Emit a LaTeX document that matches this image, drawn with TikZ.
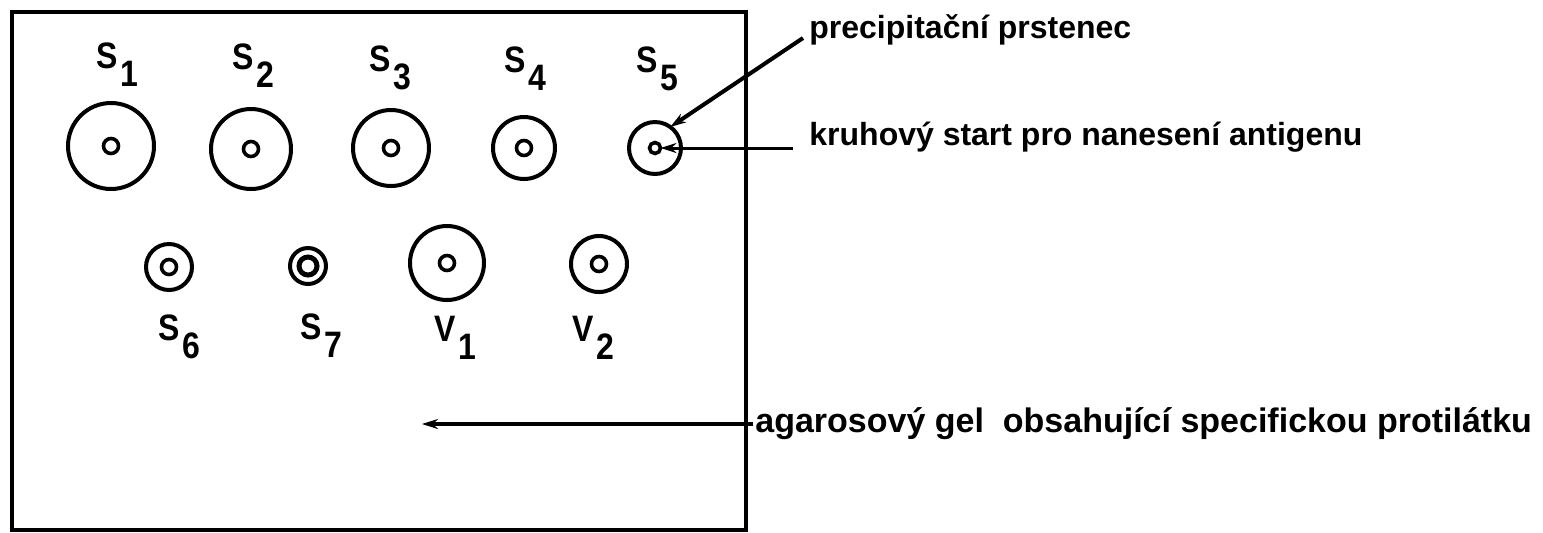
\documentclass[tikz,border=0pt]{standalone}
\usepackage{fontspec}
\usepackage{graphicx}
\setmainfont{Liberation Sans}
\usetikzlibrary{arrows.meta}
\newcommand{\lbl}[2]{\scalebox{1}[1.15]{#1}\kern1.5pt\raisebox{-9pt}{\scalebox{1}[1.15]{#2}}}
\begin{document}
\begin{tikzpicture}[x=0.5pt,y=-0.5pt,
  ring/.style={circle,draw,line width=2pt,minimum size=#1,inner sep=0pt,outer sep=0pt},
  hole/.style={circle,draw,line width=1.8pt,minimum size=#1,inner sep=0pt,outer sep=0pt},
  lab/.style={anchor=base west,inner sep=0pt,font=\fontsize{16}{19}\selectfont\bfseries},
  txt/.style={anchor=base west,inner sep=0pt,font=\fontsize{16}{19}\selectfont\bfseries},
  arr/.style={-{Stealth[length=8pt,width=5pt]},line width=2pt}]
\useasboundingbox (0,0) rectangle (1543,532);
\draw[line width=2pt] (12,12) rectangle (746,530);
% row 1
\node[ring=43pt] (s1) at (111,146) {};
\node[hole=7.5pt] (s1in) at (111,146) {};
\node[ring=40pt] (s2) at (251,149) {};
\node[hole=7.5pt] (s2in) at (251,149) {};
\node[ring=38pt] (s3) at (391,148) {};
\node[hole=7.5pt] (s3in) at (391,148) {};
\node[ring=31pt] (s4) at (524,148) {};
\node[hole=7.5pt] (s4in) at (524,148) {};
\node[ring=26pt] (s5) at (655,148) {};
\node[hole=5.5pt] (s5in) at (655,148) {};
% row 2
\node[ring=23pt] (s6) at (169,267) {};
\node[hole=7.5pt] (s6in) at (169,267) {};
\node[ring=18pt] (s7) at (308,266) {};
\node[hole=9pt,line width=2.5pt] (s7in) at (308,266) {};
\node[ring=37pt] (v1) at (447,263) {};
\node[hole=7.5pt] (v1in) at (447,263) {};
\node[ring=28pt] (v2) at (599,264) {};
\node[hole=7.5pt] (v2in) at (599,264) {};
% labels
\node[lab] (ls1) at (96,68) {\lbl{S}{1}};
\node[lab] (ls2) at (232,69) {\lbl{S}{2}};
\node[lab] (ls3) at (369,71) {\lbl{S}{3}};
\node[lab] (ls4) at (504,72) {\lbl{S}{4}};
\node[lab] (ls5) at (636,72) {\lbl{S}{5}};
\node[lab] (ls6) at (158,340) {\lbl{S}{6}};
\node[lab] (ls7) at (300,339) {\lbl{S}{7}};
\node[lab] (lv1) at (434,341) {\lbl{V}{1}};
\node[lab] (lv2) at (572,341) {\lbl{V}{2}};
% texts
\node[txt] (precip) at (809,38) {precipitační prstenec};
\node[txt] (kruh) at (809,145) {kruhový start pro nanesení antigenu};
\node[txt,font=\fontsize{17}{20}\selectfont\bfseries] (agar) at (755,432) {agarosový gel\ \ obsahující specifickou protilátku};
\coordinate (gelpt) at (422,424);
% arrows
\draw[arr] ([xshift=-3pt]precip.base west) -- (s5.54);
\draw[arr,line width=1.5pt] ([xshift=-8pt,yshift=-1.5pt]kruh.base west) -- (s5in.east);
\draw[arr] ([xshift=-1pt,yshift=4pt]agar.base west) -- (gelpt);
\end{tikzpicture}
\end{document}
